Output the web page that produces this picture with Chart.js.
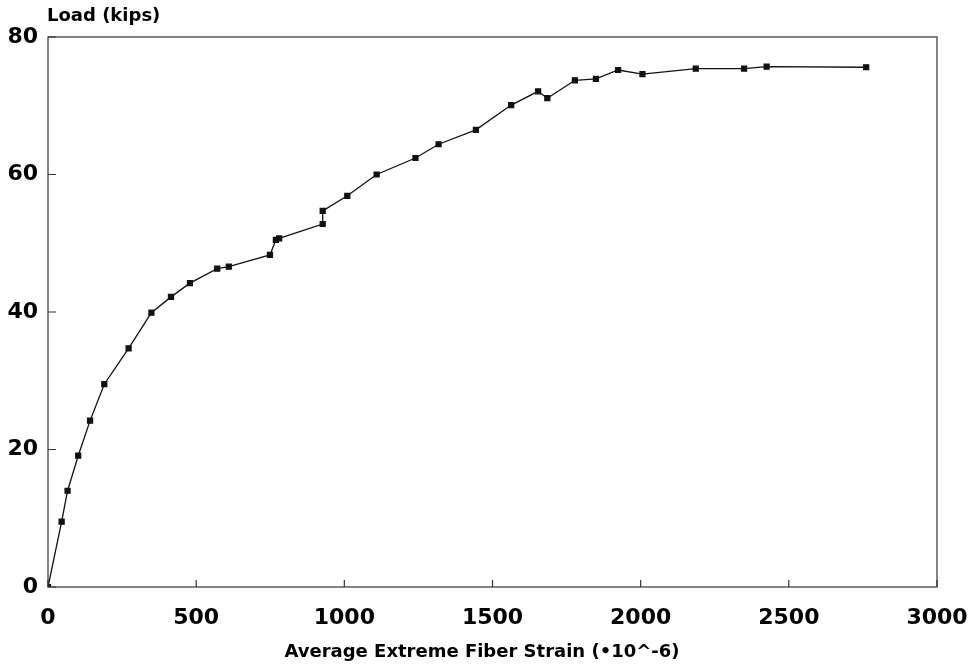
<!DOCTYPE html>
<html>
<head>
<meta charset="utf-8">
<script src="https://cdn.jsdelivr.net/npm/chart.js@4/dist/chart.umd.min.js"></script>
<style>
    body { margin: 0; background: #fff; }
    #chartBox { width: 977px; height: 669px; position: relative; }
</style>
</head>
<body>
<div id="chartBox"><canvas id="myChart"></canvas></div>
<script>
let strainValues = [0, 46, 66, 102, 142, 190, 272, 349, 415, 479, 571, 610, 749, 769, 780, 927, 927, 1010, 1109, 1240, 1318, 1444, 1563, 1654, 1685, 1778, 1849, 1924, 2006, 2186, 2349, 2425, 2761];
let loadValues = [0, 9.5, 14.0, 19.1, 24.2, 29.5, 34.7, 39.9, 42.2, 44.2, 46.3, 46.6, 48.3, 50.5, 50.7, 52.8, 54.7, 56.9, 60.0, 62.4, 64.4, 66.5, 70.1, 72.1, 71.1, 73.7, 73.9, 75.2, 74.6, 75.4, 75.4, 75.7, 75.6];
let xTicks = [0, 500, 1000, 1500, 2000, 2500, 3000];
let yTicks = [0, 20, 40, 60, 80];
let yTitle = 'Load (kips)';
let xTitle = 'Average Extreme Fiber Strain (•10^-6)';

/*Frame, inner ticks and titles*/

const frameAndTitles = {
    id: 'frameAndTitles',
    afterDraw(chart) {
        const ctx = chart.ctx;
        const area = chart.chartArea;
        const x = chart.scales.x;
        const y = chart.scales.y;
        ctx.save();
        ctx.strokeStyle = '#333';
        ctx.lineWidth = 1.2;
        ctx.strokeRect(area.left, area.top, area.right - area.left, area.bottom - area.top);
        ctx.beginPath();
        for (let t of xTicks) {
            let px = x.getPixelForValue(t);
            ctx.moveTo(px, area.bottom);
            ctx.lineTo(px, area.bottom - 7);
        }
        for (let t of yTicks) {
            let py = y.getPixelForValue(t);
            ctx.moveTo(area.left, py);
            ctx.lineTo(area.left + 8, py);
        }
        ctx.stroke();
        ctx.fillStyle = '#000';
        ctx.font = 'bold 18px "DejaVu Sans"';
        ctx.textBaseline = 'middle';
        ctx.textAlign = 'left';
        ctx.fillText(yTitle, 47, 16);
        ctx.textAlign = 'center';
        ctx.fillText(xTitle, 482, 652);
        ctx.restore();
    }
};

/*Chart Section*/

function setChart() {
    const ctx = document.getElementById('myChart');
    const points = strainValues.map((s, i) => ({ x: s, y: loadValues[i] }));

    new Chart(ctx, {
        type: 'line',
        data: {
            datasets: [{
                data: points,
                borderColor: '#111',
                borderWidth: 1.3,
                pointStyle: 'rect',
                pointRadius: 3.5,
                pointBackgroundColor: '#111',
                pointBorderColor: '#111',
                tension: 0
            }]
        },
        options: {
            responsive: true,
            maintainAspectRatio: false,
            animation: false,
            layout: { padding: { top: 37, right: 40, left: 0, bottom: 0 } },
            plugins: {
                legend: { display: false },
                tooltip: { enabled: false }
            },
            scales: {
                x: {
                    type: 'linear',
                    min: 0,
                    max: 3000,
                    afterBuildTicks: (scale) => { scale.ticks = xTicks.map(v => ({ value: v })); },
                    afterFit: (scale) => {
                        scale.height = 82;
                        scale.paddingLeft = 0;
                        scale.paddingRight = 0;
                    },
                    grid: { display: false, drawTicks: false },
                    border: { display: false },
                    ticks: {
                        color: '#000',
                        padding: 18,
                        maxRotation: 0,
                        callback: (value) => String(value),
                        font: { family: 'DejaVu Sans', weight: 'bold', size: 22 }
                    }
                },
                y: {
                    type: 'linear',
                    min: 0,
                    max: 80,
                    afterBuildTicks: (scale) => { scale.ticks = yTicks.map(v => ({ value: v })); },
                    afterFit: (scale) => {
                        scale.width = 48;
                        scale.paddingTop = 0;
                        scale.paddingBottom = 0;
                    },
                    grid: { display: false, drawTicks: false },
                    border: { display: false },
                    ticks: {
                        color: '#000',
                        padding: 10,
                        callback: (value) => String(value),
                        font: { family: 'DejaVu Sans', weight: 'bold', size: 22 }
                    }
                }
            }
        },
        plugins: [frameAndTitles]
    });
}

setChart();
</script>
</body>
</html>
